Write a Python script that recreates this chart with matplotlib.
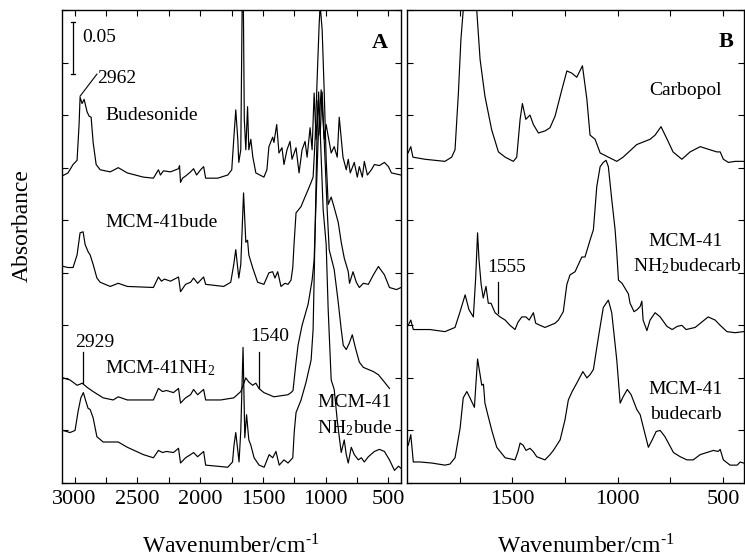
import matplotlib
matplotlib.use('Agg')
import matplotlib.pyplot as plt
import numpy as np

plt.rcParams['font.family'] = ['Liberation Serif', 'DejaVu Serif']
plt.rcParams['mathtext.fontset'] = 'stix'

# ---------------- Panel A data (wavenumber / cm-1, absorbance incl. offset) -------------
bude_wn = [3100, 3052, 3012, 2980, 2964, 2956, 2940, 2924, 2900, 2884, 2868, 2852, 2828, 2796,
           2716, 2652, 2580, 2452, 2372, 2332, 2316, 2292, 2236, 2172, 2164, 2156, 2140, 2116,
           2076, 2052, 2028, 1996, 1972, 1956, 1860, 1780, 1748, 1732, 1716, 1700, 1692, 1676,
           1660, 1648, 1636, 1622, 1612, 1596, 1580, 1556, 1492, 1468, 1452, 1422, 1412, 1390,
           1372, 1348, 1332, 1308, 1284, 1268, 1236, 1212, 1188, 1164, 1148, 1124, 1108, 1092,
           1076, 1060, 1044, 1028, 1012, 996, 980, 956, 932, 908, 892, 862, 836, 820, 804, 772,
           748, 732, 708, 692, 668, 636, 612, 572, 532, 500, 476, 400]
bude_abs = [0.292, 0.295, 0.303, 0.307, 0.341, 0.367, 0.361, 0.365, 0.353, 0.349, 0.348, 0.324,
            0.303, 0.298, 0.296, 0.300, 0.295, 0.291, 0.290, 0.298, 0.293, 0.297, 0.296, 0.299,
            0.302, 0.286, 0.290, 0.292, 0.296, 0.299, 0.293, 0.298, 0.301, 0.290, 0.290, 0.293,
            0.298, 0.327, 0.355, 0.327, 0.305, 0.317, 0.520, 0.346, 0.317, 0.358, 0.317, 0.327,
            0.310, 0.295, 0.291, 0.298, 0.320, 0.329, 0.324, 0.341, 0.314, 0.319, 0.303, 0.317,
            0.325, 0.308, 0.319, 0.295, 0.317, 0.325, 0.310, 0.338, 0.317, 0.371, 0.327, 0.364,
            0.331, 0.372, 0.327, 0.341, 0.330, 0.314, 0.320, 0.310, 0.348, 0.310, 0.298, 0.308,
            0.295, 0.305, 0.291, 0.301, 0.291, 0.306, 0.293, 0.298, 0.303, 0.302, 0.305, 0.301,
            0.295, 0.293]

mcmbude_wn = [3088, 3052, 3012, 2980, 2956, 2932, 2916, 2892, 2876, 2852, 2822, 2796, 2716, 2652,
              2580, 2372, 2332, 2308, 2284, 2236, 2172, 2156, 2116, 2076, 2052, 2020, 1972, 1956,
              1812, 1756, 1732, 1716, 1692, 1676, 1654, 1636, 1622, 1612, 1582, 1542, 1492, 1452,
              1422, 1404, 1382, 1356, 1324, 1300, 1276, 1262, 1252, 1236, 1196, 1172, 1140, 1116,
              1100, 1084, 1068, 1052, 1044, 1028, 1012, 996, 980, 956, 932, 900, 876, 852, 820,
              810, 782, 756, 732, 700, 660, 620, 580, 532, 492, 436, 400]
mcmbude_abs = [0.206, 0.205, 0.205, 0.217, 0.238, 0.239, 0.227, 0.220, 0.217, 0.208, 0.195,
               0.191, 0.187, 0.190, 0.187, 0.186, 0.196, 0.192, 0.194, 0.192, 0.196, 0.182,
               0.189, 0.191, 0.195, 0.190, 0.196, 0.189, 0.187, 0.191, 0.208, 0.222, 0.195,
               0.208, 0.276, 0.229, 0.231, 0.217, 0.205, 0.191, 0.189, 0.200, 0.201, 0.195,
               0.201, 0.187, 0.190, 0.189, 0.193, 0.205, 0.227, 0.257, 0.263, 0.270, 0.279,
               0.286, 0.291, 0.327, 0.384, 0.436, 0.455, 0.431, 0.374, 0.308, 0.265, 0.272,
               0.262, 0.248, 0.229, 0.214, 0.201, 0.190, 0.201, 0.191, 0.186, 0.190, 0.189,
               0.198, 0.206, 0.198, 0.186, 0.184, 0.186]

nh2_wn = [3092, 3036, 2980, 2956, 2940, 2900, 2852, 2772, 2692, 2652, 2580, 2372, 2332, 2300,
          2268, 2212, 2172, 2156, 2116, 2076, 2052, 2020, 1972, 1956, 1836, 1732, 1676, 1636,
          1612, 1582, 1556, 1532, 1492, 1412, 1300, 1276, 1260, 1236, 1220, 1188, 1140, 1108,
          1092, 1076, 1060, 1036, 1012, 988, 972, 932, 900, 876, 860, 836, 812, 788, 764, 732,
          700, 660, 620, 580, 532, 492]
nh2_abs = [0.100, 0.098, 0.093, 0.094, 0.095, 0.091, 0.087, 0.081, 0.079, 0.082, 0.079, 0.079,
           0.090, 0.087, 0.088, 0.086, 0.090, 0.076, 0.081, 0.084, 0.089, 0.084, 0.089, 0.079,
           0.079, 0.081, 0.087, 0.100, 0.096, 0.093, 0.095, 0.090, 0.086, 0.082, 0.084, 0.086,
           0.088, 0.115, 0.131, 0.150, 0.170, 0.193, 0.212, 0.270, 0.327, 0.374, 0.327, 0.260,
           0.222, 0.203, 0.172, 0.146, 0.131, 0.127, 0.133, 0.141, 0.129, 0.115, 0.110, 0.108,
           0.106, 0.103, 0.096, 0.090]

nh2bude_wn = [3092, 3036, 2996, 2972, 2950, 2930, 2908, 2892, 2876, 2852, 2822, 2772, 2652, 2580,
              2452, 2372, 2332, 2300, 2268, 2212, 2172, 2156, 2116, 2076, 2052, 2020, 1972, 1956,
              1780, 1742, 1730, 1716, 1700, 1690, 1676, 1658, 1644, 1630, 1612, 1596, 1570, 1530,
              1490, 1450, 1422, 1396, 1370, 1332, 1300, 1262, 1250, 1236, 1196, 1156, 1116, 1100,
              1084, 1068, 1056, 1044, 1020, 996, 980, 956, 932, 908, 892, 876, 852, 836, 820, 796,
              772, 740, 716, 692, 660, 612, 572, 532, 492, 452, 420, 400]
nh2bude_abs = [0.050, 0.048, 0.050, 0.068, 0.081, 0.086, 0.077, 0.071, 0.070, 0.062, 0.044,
               0.039, 0.039, 0.034, 0.027, 0.024, 0.031, 0.029, 0.030, 0.029, 0.033, 0.019,
               0.024, 0.027, 0.029, 0.025, 0.030, 0.017, 0.015, 0.020, 0.036, 0.048, 0.031,
               0.020, 0.050, 0.129, 0.043, 0.065, 0.041, 0.036, 0.024, 0.017, 0.015, 0.027,
               0.024, 0.030, 0.017, 0.022, 0.019, 0.024, 0.049, 0.067, 0.079, 0.096, 0.117,
               0.146, 0.241, 0.336, 0.372, 0.336, 0.260, 0.227, 0.165, 0.098, 0.089, 0.060,
               0.044, 0.029, 0.041, 0.027, 0.019, 0.034, 0.027, 0.022, 0.024, 0.020, 0.025,
               0.030, 0.032, 0.030, 0.022, 0.012, 0.016, 0.014]

# ---------------- Panel B data -------------
carbopol_wn = [1995, 1982, 1972, 1915, 1820, 1788, 1772, 1756, 1744, 1733, 1712, 1690, 1669, 1653,
               1630, 1598, 1566, 1534, 1495, 1479, 1463, 1452, 1436, 1416, 1400, 1376, 1344, 1321,
               1297, 1265, 1241, 1218, 1194, 1167, 1146, 1131, 1107, 1083, 1044, 1004, 974, 909,
               846, 822, 794, 765, 737, 695, 656, 608, 561, 529, 513, 498, 474, 442, 403]
carbopol_abs = [0.314, 0.320, 0.310, 0.308, 0.306, 0.310, 0.317, 0.371, 0.422, 0.450, 0.530,
                0.480, 0.450, 0.403, 0.368, 0.336, 0.315, 0.310, 0.306, 0.310, 0.346, 0.361,
                0.346, 0.350, 0.341, 0.333, 0.335, 0.338, 0.349, 0.374, 0.392, 0.390, 0.386,
                0.397, 0.365, 0.331, 0.327, 0.314, 0.310, 0.306, 0.310, 0.322, 0.327, 0.331,
                0.339, 0.327, 0.315, 0.308, 0.315, 0.320, 0.317, 0.315, 0.315, 0.308, 0.305,
                0.306, 0.306]

nh2budecarb_wn = [1994, 1982, 1970, 1891, 1820, 1772, 1748, 1724, 1706, 1685, 1674, 1665, 1658,
                  1648, 1638, 1625, 1614, 1601, 1582, 1558, 1534, 1511, 1487, 1473, 1455, 1435,
                  1420, 1400, 1389, 1368, 1345, 1321, 1297, 1281, 1258, 1241, 1226, 1202, 1170,
                  1155, 1131, 1115, 1099, 1083, 1068, 1055, 1044, 1028, 1012, 1004, 996, 979, 949,
                  941, 922, 907, 893, 885, 879, 861, 846, 822, 798, 766, 741, 717, 695, 675, 632,
                  570, 537, 513, 481, 442, 403]
nh2budecarb_abs = [0.150, 0.155, 0.146, 0.146, 0.144, 0.148, 0.163, 0.179, 0.165, 0.158, 0.195,
                   0.238, 0.212, 0.189, 0.176, 0.187, 0.171, 0.171, 0.162, 0.158, 0.155, 0.150,
                   0.146, 0.153, 0.158, 0.158, 0.155, 0.162, 0.152, 0.150, 0.148, 0.150, 0.152,
                   0.155, 0.163, 0.189, 0.198, 0.201, 0.215, 0.215, 0.231, 0.241, 0.282, 0.301,
                   0.305, 0.307, 0.301, 0.270, 0.241, 0.219, 0.193, 0.190, 0.180, 0.171, 0.163,
                   0.165, 0.168, 0.173, 0.155, 0.145, 0.155, 0.162, 0.158, 0.149, 0.146, 0.149,
                   0.150, 0.146, 0.148, 0.158, 0.155, 0.150, 0.144, 0.143, 0.144]

budecarb_wn = [1994, 1982, 1970, 1938, 1883, 1820, 1796, 1772, 1748, 1733, 1716, 1701, 1680, 1665,
               1645, 1637, 1630, 1614, 1596, 1574, 1534, 1487, 1473, 1463, 1449, 1435, 1416, 1401,
               1384, 1345, 1321, 1305, 1273, 1250, 1234, 1216, 1194, 1165, 1146, 1131, 1115, 1091,
               1068, 1044, 1028, 1004, 988, 974, 954, 936, 909, 893, 878, 854, 836, 817, 798, 775,
               735, 703, 671, 641, 608, 545, 523, 513, 498, 466, 432, 418, 403]
budecarb_abs = [0.036, 0.046, 0.020, 0.020, 0.019, 0.017, 0.018, 0.024, 0.052, 0.081, 0.087,
                0.081, 0.072, 0.118, 0.093, 0.094, 0.076, 0.063, 0.049, 0.034, 0.024, 0.022,
                0.030, 0.038, 0.036, 0.031, 0.033, 0.030, 0.025, 0.022, 0.027, 0.031, 0.041,
                0.060, 0.079, 0.087, 0.095, 0.106, 0.100, 0.103, 0.108, 0.139, 0.167, 0.174,
                0.162, 0.117, 0.076, 0.082, 0.089, 0.084, 0.070, 0.065, 0.053, 0.034, 0.041,
                0.049, 0.050, 0.044, 0.029, 0.025, 0.022, 0.022, 0.027, 0.031, 0.030, 0.032,
                0.022, 0.017, 0.017, 0.020, 0.019]

ticksA = [3000, 2500, 2000, 1500, 1000, 500]
minorA = [2750, 2250, 1750, 1250, 750]
ticksB = [1500, 1000, 500]
minorB = [1750, 1250, 750]
scale_bar = 0.05

# ---------------- figure -------------
W, H = 745, 559
fig = plt.figure(figsize=(W / 100, H / 100), dpi=100)
axA = fig.add_axes([62 / W, 1 - 483 / H, (401 - 62) / W, (483 - 10) / H])
axB = fig.add_axes([407 / W, 1 - 483 / H, (744 - 407) / W, (483 - 10) / H])

lw = 0.85
for wn, ab in [(bude_wn, bude_abs), (mcmbude_wn, mcmbude_abs), (nh2_wn, nh2_abs),
               (nh2bude_wn, nh2bude_abs)]:
    axA.plot(wn, ab, color='black', lw=lw)
for wn, ab in [(carbopol_wn, carbopol_abs), (nh2budecarb_wn, nh2budecarb_abs),
               (budecarb_wn, budecarb_abs)]:
    axB.plot(wn, ab, color='black', lw=lw)

axA.set_xlim(3100, 400)
axB.set_xlim(2000, 400)
for ax, maj, mnr in [(axA, ticksA, minorA), (axB, ticksB, minorB)]:
    ax.set_ylim(0, 0.45)
    ax.set_xticks(maj)
    ax.set_xticks(mnr, minor=True)
    ax.set_yticks(np.arange(0, 0.451, 0.05))
    ax.set_yticklabels([])
    ax.tick_params(which='both', direction='in', top=True, right=True, length=4, width=0.8,
                   labelsize=16, pad=5)
    for s in ax.spines.values():
        s.set_linewidth(1.0)

# scale bar
sx = 3014
axA.plot([sx, sx], [0.389, 0.389 + scale_bar], color='black', lw=0.9)
axA.plot([sx - 14, sx + 14], [0.389, 0.389], color='black', lw=0.9)
axA.plot([sx - 14, sx + 14], [0.389 + scale_bar, 0.389 + scale_bar], color='black', lw=0.9)

# annotation markers
axA.plot([2956, 2822], [0.368, 0.389], color='black', lw=0.8)
axA.plot([2929, 2929], [0.095, 0.125], color='black', lw=0.9)
axA.plot([1532, 1532], [0.090, 0.125], color='black', lw=0.9)
axB.plot([1566, 1566], [0.162, 0.191], color='black', lw=0.9)


def ftext(x, y, s, **kw):
    kw.setdefault('fontsize', 14)
    kw.setdefault('va', 'baseline')
    fig.text(x / W, 1 - y / H, s, **kw)


N2 = r'$_\mathregular{2}$'
ftext(82, 42, '0.05')
ftext(97, 83, '2962')
ftext(105, 120, 'Budesonide')
ftext(105, 227, 'MCM-41bude')
ftext(380, 48, 'A', fontsize=16, fontweight='bold', ha='center')
ftext(75, 347, '2929')
ftext(105, 373, 'MCM-41NH' + N2)
ftext(250, 341, '1540')
ftext(355, 407, 'MCM-41', ha='center')
ftext(355, 433, 'NH' + N2 + 'bude', ha='center')

ftext(726, 47, 'B', fontsize=16, fontweight='bold', ha='center')
ftext(686, 95, 'Carbopol', ha='center')
ftext(487, 272, '1555')
ftext(686, 246, 'MCM-41', ha='center')
ftext(687, 271, 'NH' + N2 + 'budecarb', ha='center')
ftext(686, 394, 'MCM-41', ha='center')
ftext(686, 419, 'budecarb', ha='center')

xlab = r'Wavenumber/cm$^{\mathregular{\text{-}1}}$'
ftext(231, 553, xlab, fontsize=17, ha='center')
ftext(586, 553, xlab, fontsize=17, ha='center')
fig.text(22 / W, 1 - 226 / H, 'Absorbance', fontsize=17, rotation=90, ha='center', va='center')

fig.savefig('out.png', dpi=100)
